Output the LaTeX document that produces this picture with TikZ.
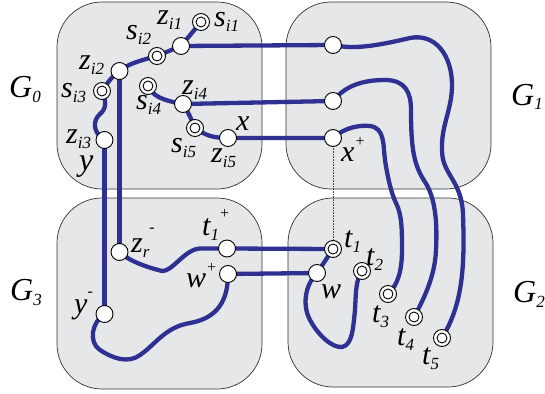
\documentclass[tikz,border=0pt]{standalone}
\usepackage{fontspec}
\setmainfont{Liberation Serif}
\pgfdeclarelayer{bg}
\pgfdeclarelayer{wires}
\pgfsetlayers{bg,wires,main}
\definecolor{panel}{HTML}{E6E7E9}
\definecolor{wire}{HTML}{2E3192}
% sub- and superscripts for the labels
\newcommand\dn[1]{\raisebox{-5pt}{\fontsize{17}{17}\selectfont #1}}
\newcommand\up[2][15pt]{\raisebox{#1}{\fontsize{16}{16}\selectfont #2}}
\tikzset{
  panelbox/.style={draw=black!80, line width=0.7pt, fill=panel, rounded corners=45pt},
  wirepath/.style={draw=wire, line width=4.3pt, line cap=round, line join=round},
  port/.style={circle, draw=black, fill=white, line width=0.9pt, minimum size=17pt, inner sep=0pt},
  term/.style={port, path picture={\draw[line width=0.9pt] (path picture bounding box.center) circle (5pt);}},
  lbl/.style={font=\fontsize{30}{30}\selectfont\itshape, inner sep=0pt, anchor=base west},
  glbl/.style={font=\fontsize{32}{32}\selectfont\itshape, inner sep=0pt, anchor=base west},
  guide/.style={draw=black!75, line width=0.6pt, densely dotted},
}
\begin{document}
\begin{tikzpicture}[x=1pt, y=-1pt]
\useasboundingbox (0,0) rectangle (545,393);

% the four regions
\begin{pgfonlayer}{bg}
  \path[panelbox] (57,2) rectangle (262,189);
  \path[panelbox] (286,2) rectangle (491,189);
  \path[panelbox] (57,198) rectangle (262,389);
  \path[panelbox] (288,198) rectangle (493,387);
\end{pgfonlayer}

% vertices
\node[term] (si1) at (201,22) {};
\node[port] (zi1) at (181,46) {};
\node[term] (si2) at (157,56) {};
\node[port] (zi2) at (119.5,71) {};
\node[term] (si3) at (102,91) {};
\node[port] (zi3) at (104.5,140) {};
\node[term] (si4) at (148,86) {};
\node[port] (zi4) at (183,104) {};
\node[term] (si5) at (195,128) {};
\node[port] (zi5) at (228,138) {};
\node[port] (a1) at (333,45) {};
\node[port] (a2) at (333,101) {};
\node[port] (xp) at (333,138) {};
\node[port] (zr) at (119.5,252) {};
\node[port] (tp) at (227,248.5) {};
\node[port] (wp) at (228,274) {};
\node[port] (ym) at (104.5,314) {};
\node[term] (t1) at (333,249) {};
\node[port] (w) at (317,273) {};
\node[term] (t2) at (362,271) {};
\node[term] (t3) at (388,294) {};
\node[term] (t4) at (414,317) {};
\node[term] (t5) at (442,338) {};

% paths
\begin{pgfonlayer}{wires}
  \draw[guide] (xp.center) -- (t1.center);
  \draw[wirepath] (si1.center) -- (zi1.center) -- (si2.center)
    .. controls (138,61) and (126,65) .. (zi2.center)
    .. controls (111,78) .. (si3.center)
    .. controls (106,101) and (107,108) .. (100,114)
    .. controls (93,120) and (92,132) .. (zi3.center);
  \draw[wirepath] (zi1.center) -- (a1.center)
    .. controls (355,50) and (380,45) .. (410,38)
    .. controls (435,33) and (452,55) .. (452,85)
    .. controls (452,110) and (441,125) .. (442,150)
    .. controls (442,175) and (462,180) .. (463,215)
    .. controls (465,270) and (462,305) .. (t5.center);
  \draw[wirepath] (zi4.center) -- (a2.center)
    .. controls (345,86) and (362,80) .. (385,80)
    .. controls (405,80) and (411,92) .. (411,110)
    .. controls (411,150) and (414,165) .. (425,182)
    .. controls (437,200) and (437,230) .. (436,250)
    .. controls (435,275) and (425,297) .. (t4.center);
  \draw[wirepath] (zi5.center) -- (xp.center)
    .. controls (345,127) and (360,125) .. (370,126)
    .. controls (385,128) and (383,145) .. (385,160)
    .. controls (388,180) and (392,195) .. (396,203)
    .. controls (402,215) and (402,230) .. (402,250)
    .. controls (402,270) and (398,285) .. (t3.center);
  \draw[wirepath] (zi2.center) -- (zr.center);
  \draw[wirepath] (zi3.center) -- (ym.center);
  \draw[wirepath] (si4.center) .. controls (153,96) and (161,100) .. (zi4.center)
    .. controls (189,114) .. (si5.center)
    .. controls (205,135) and (212,138) .. (zi5.center);
  \draw[wirepath] (zr.center) .. controls (130,262) and (150,268) .. (162,271)
    .. controls (172,272) and (185,249) .. (200,248.5) -- (tp.center) -- (t1.center) -- (w.center);
  \draw[wirepath] (wp.center) -- (w.center);
  \draw[wirepath] (wp.center) .. controls (228,300) and (218,318) .. (190,323)
    .. controls (165,327) and (155,345) .. (140,355)
    .. controls (128,364) and (112,358) .. (100,350)
    .. controls (88,342) and (92,322) .. (ym.center);
  \draw[wirepath] (w.center) .. controls (305,285) and (302,305) .. (310,320)
    .. controls (318,335) and (332,348) .. (342,347)
    .. controls (352,345) and (353,330) .. (355,310)
    .. controls (356,290) and (356,280) .. (t2.center);
\end{pgfonlayer}

% labels
\node[glbl] (lG0) at (9,98) {G\dn{0}};
\node[glbl] (lG1) at (511,105) {G\dn{1}};
\node[glbl] (lG3) at (10,300) {G\dn{3}};
\node[glbl] (lG2) at (513,302) {G\dn{2}};
\node[lbl] (lsi1) at (214,27) {s\dn{i1}};
\node[lbl] (lzi1) at (157,25) {z\dn{i1}};
\node[lbl] (lsi2) at (126,40) {s\dn{i2}};
\node[lbl] (lzi2) at (79,70) {z\dn{i2}};
\node[lbl] (lsi3) at (61,98) {s\dn{i3}};
\node[lbl] (lzi3) at (66,143) {z\dn{i3}};
\node[lbl, font=\fontsize{32}{32}\selectfont\itshape] (ly) at (79,170) {y};
\node[lbl] (lsi4) at (136,110) {s\dn{i4}};
\node[lbl] (lzi4) at (182,95) {z\dn{i4}};
\node[lbl] (lsi5) at (171,152) {s\dn{i5}};
\node[lbl] (lzi5) at (211,162) {z\dn{i5}};
\node[lbl] (lx) at (236,130) {x};
\node[lbl] (lxp) at (341,161) {x\up{+}};
\node[lbl] (lzr) at (131,252) {z\dn{r}\up[20pt]{-}};
\node[lbl] (ltp) at (202,235) {t\dn{1}\up[17pt]{+}};
\node[lbl] (lwp) at (186,287) {w\up{+}};
\node[lbl] (lym) at (74,313) {y\up[17pt]{-}};
\node[lbl] (lt1) at (344,247) {t\dn{1}};
\node[lbl] (lt2) at (366,265) {t\dn{2}};
\node[lbl] (lw) at (321,298) {w};
\node[lbl] (lt3) at (372,322) {t\dn{3}};
\node[lbl] (lt4) at (397,345) {t\dn{4}};
\node[lbl] (lt5) at (422,364) {t\dn{5}};
\end{tikzpicture}
\end{document}
